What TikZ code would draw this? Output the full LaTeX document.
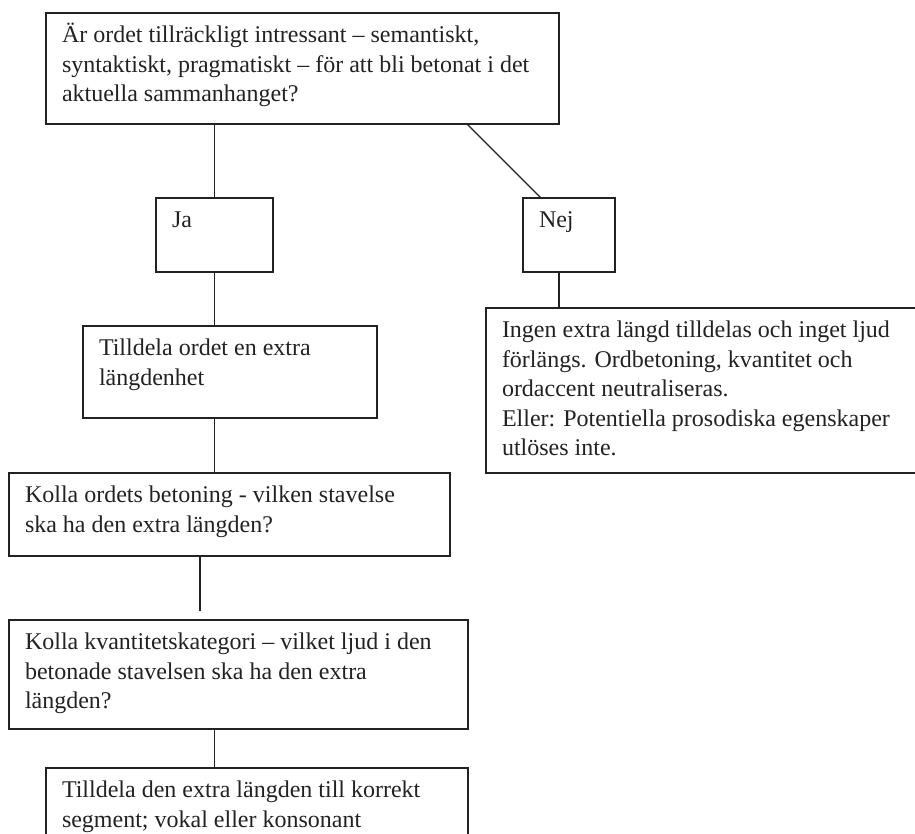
\documentclass[tikz,border=0pt]{standalone}
\usepackage{fontspec}
\setmainfont{Liberation Serif}
\usepackage{tikz}
\usetikzlibrary{positioning}
\definecolor{ink}{HTML}{222222}
\newcommand{\boxtext}[3]{\parbox[t][#2][t]{#1}{\strut#3}}

\begin{document}
\begin{tikzpicture}[x=1pt, y=-1pt, box/.style={draw=ink, line width=1.2pt, outer sep=0pt, inner xsep=16pt, inner ysep=9pt, anchor=north west, text=ink, font=\fontsize{24}{29.5}\selectfont},link/.style={draw=ink, line width=1.2pt}]
\useasboundingbox (0,0) rectangle (915,834);
\node[box] (q) at (46,13) {\boxtext{481pt}{93pt}{Är ordet tillräckligt intressant – semantiskt,\\syntaktiskt, pragmatiskt – för att bli betonat i det\\aktuella sammanhanget?}};
\node[box, below=74pt of q.south west, anchor=north west, xshift=110pt] (ja) {\boxtext{85pt}{56pt}{Ja}};
\node[box, right=250pt of ja.north east, anchor=north west] (nej) {\boxtext{60pt}{56pt}{Nej}};
\node[box, below=54pt of ja.south west, anchor=north west, xshift=-73pt] (tilld) {\boxtext{262pt}{74pt}{Tilldela ordet en extra\\längdenhet}};
\node[box, below=36pt of nej.south west, anchor=north west, xshift=-37pt] (ingen) {\boxtext{460pt}{147pt}{Ingen extra längd tilldelas och inget ljud\\förlängs. Ordbetoning, kvantitet och\\ordaccent neutraliseras.\\Eller: Potentiella prosodiska egenskaper\\utlöses inte.}};
\node[box, below=55pt of tilld.south west, anchor=north west, xshift=-74pt] (beton) {\boxtext{409pt}{65pt}{Kolla ordets betoning - vilken stavelse\\ska ha den extra längden?}};
\node[box, below=64pt of beton.south west, anchor=north west] (kvant) {\boxtext{427pt}{91pt}{Kolla kvantitetskategori – vilket ljud i den\\betonade stavelsen ska ha den extra\\längden?}};
\node[box, below=39pt of kvant.south west, anchor=north west, xshift=37pt] (segm) {\boxtext{390pt}{82pt}{Tilldela den extra längden till korrekt\\segment; vokal eller konsonant}};
\coordinate[above=9pt of kvant.north west, xshift=191pt] (gap);
% connectors
\draw[link] (ja.north) -- (ja.north |- q.south);
\draw[link] ([xshift=-92pt]q.south east) -- ([xshift=18pt]nej.north west);
\draw[link] (ja.south) -- (ja.south |- tilld.north);
\draw[link] ([xshift=-10pt]nej.south) -- ([xshift=-10pt]nej.south |- ingen.north);
\draw[link] (ja.south |- tilld.south) -- (ja.south |- beton.north);
\draw[link] (gap |- beton.south) -- (gap);
\draw[link] (ja.south |- kvant.south) -- (ja.south |- segm.north);
\end{tikzpicture}
\end{document}
